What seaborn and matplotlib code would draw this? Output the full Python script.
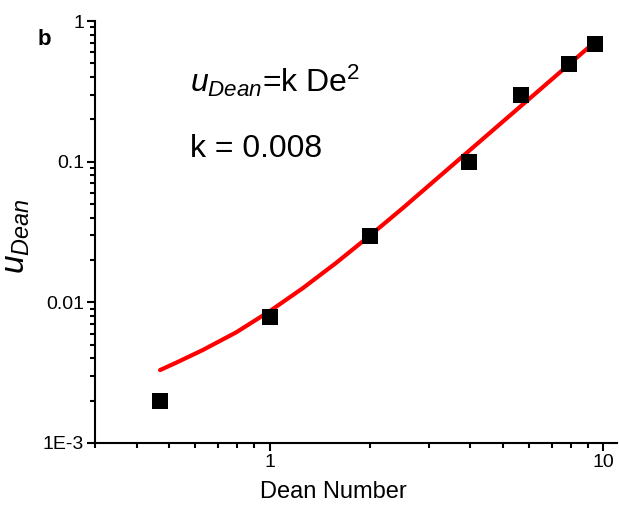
import numpy as np
import pandas as pd
import matplotlib
matplotlib.use('Agg')
import matplotlib.pyplot as plt
import seaborn as sns
from matplotlib.ticker import LogLocator, NullFormatter

# Measured points (Dean number vs u_Dean)
dean_number = [0.47, 1.0, 2.0, 3.95, 5.69, 7.92, 9.47]
u_dean = [0.002, 0.0079, 0.0295, 0.1, 0.3, 0.495, 0.69]

# Fitted curve
fit_x = [0.47, 0.525, 0.631, 0.794, 1.0, 1.259, 1.585, 1.995, 2.512, 3.162, 3.98, 5.01, 6.31, 7.94, 9.47]
fit_y = [0.0033, 0.00372, 0.00458, 0.00611, 0.00863, 0.01262, 0.0191, 0.0297, 0.0469, 0.0752, 0.1205, 0.1932, 0.3097, 0.4966, 0.7145]

y_ticks = [0.001, 0.01, 0.1, 1]
y_tick_labels = ['1E-3', '0.01', '0.1', '1']
x_ticks = [1, 10]
x_tick_labels = ['1', '10']

points = pd.DataFrame({'De': dean_number, 'u': u_dean})
fit = pd.DataFrame({'De': fit_x, 'u': fit_y})

sns.set_style('ticks')
plt.rcParams['font.family'] = ['Liberation Sans', 'DejaVu Sans']
plt.rcParams['mathtext.fontset'] = 'custom'
plt.rcParams['mathtext.it'] = 'Liberation Sans:italic'
plt.rcParams['mathtext.rm'] = 'Liberation Sans'
for key in ['text.color', 'axes.labelcolor', 'xtick.color', 'ytick.color', 'axes.edgecolor']:
    plt.rcParams[key] = 'black'

fig = plt.figure(figsize=(6.19, 5.09), dpi=100)
ax = fig.add_axes([0.1535, 0.1297, 0.8433, 0.829])

sns.lineplot(data=fit, x='De', y='u', color='#ff0000', linewidth=3, ax=ax, zorder=2)
sns.scatterplot(data=points, x='De', y='u', marker='s', s=140, color='black', edgecolor='black', linewidth=0, ax=ax, zorder=3)

ax.set_xscale('log')
ax.set_yscale('log')
ax.set_xlim(0.3, 11)
ax.set_ylim(0.001, 1)

ax.set_xticks(x_ticks, x_tick_labels)
ax.set_yticks(y_ticks, y_tick_labels)
ax.xaxis.set_minor_locator(LogLocator(base=10, subs=np.arange(2, 10)))
ax.yaxis.set_minor_locator(LogLocator(base=10, subs=np.arange(2, 10)))
ax.xaxis.set_minor_formatter(NullFormatter())
ax.yaxis.set_minor_formatter(NullFormatter())
ax.tick_params(which='major', direction='out', length=6, width=1.5, labelsize=14, pad=2)
ax.tick_params(which='minor', direction='out', length=3.5, width=1.5)

sns.despine(ax=ax)
for side in ['left', 'bottom']:
    ax.spines[side].set_linewidth(1.5)

ax.set_xlabel('Dean Number', fontsize=17)
ax.xaxis.set_label_coords(0.456, -0.09)
ax.set_ylabel(r'$\mathit{u}_{\mathit{Dean}}$', fontsize=24)
ax.yaxis.set_label_coords(-0.12, 0.49)

ax.text(0.182, 0.832, r'$\mathit{u}_{\mathit{Dean}}$=k De$^{2}$', transform=ax.transAxes, fontsize=23, va='baseline')
ax.text(0.182, 0.678, 'k = 0.008', transform=ax.transAxes, fontsize=23, va='baseline')
fig.text(38 / 619, 1 - 45 / 509, 'b', fontsize=16, fontweight='bold')

fig.savefig('out.png', dpi=100)
